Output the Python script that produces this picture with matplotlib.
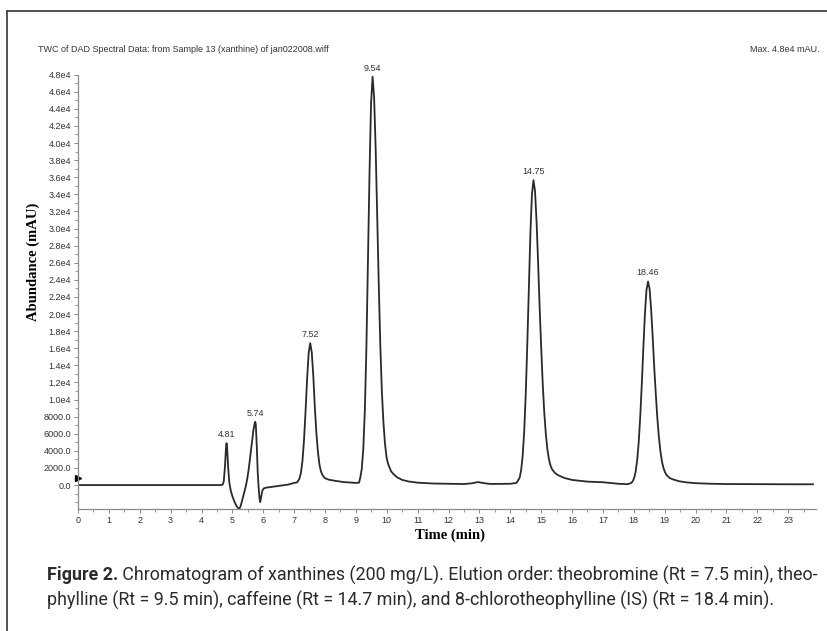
#!/usr/bin/env python

# Chromatogram of xanthines (DAD total wavelength chromatogram)
# ------------------------------------------------------------------------------

import numpy as np
import matplotlib
matplotlib.use('Agg')
import matplotlib.pyplot as plt
from matplotlib.ticker import MultipleLocator, FuncFormatter
from matplotlib.lines import Line2D

# -------------
# Data (time in min, abundance in mAU)
# -------------

time_min = [0.0, 4.60, 4.68, 4.72, 4.76, 4.79, 4.81, 4.83, 4.86, 4.90,
            4.95, 5.00, 5.05, 5.10, 5.15, 5.20, 5.24, 5.28, 5.33, 5.38,
            5.43, 5.48, 5.53, 5.58, 5.63, 5.68, 5.72, 5.74, 5.76, 5.79,
            5.82, 5.85, 5.88, 5.90, 5.93, 5.97, 6.02, 6.10, 6.30, 6.50,
            6.80, 7.00, 7.10, 7.17, 7.22, 7.27, 7.32, 7.37, 7.42, 7.47,
            7.52, 7.57, 7.62, 7.67, 7.72, 7.77, 7.82, 7.87, 7.92, 7.97,
            8.02, 8.12, 8.32, 8.60, 8.90, 9.00, 9.10, 9.14, 9.19, 9.24,
            9.29, 9.34, 9.39, 9.44, 9.49, 9.54, 9.59, 9.64, 9.69, 9.74,
            9.79, 9.84, 9.89, 9.94, 9.99, 10.04, 10.14, 10.24, 10.34, 10.50,
            10.70, 11.00, 11.50, 12.00, 12.50, 12.75, 12.95, 13.15, 13.35, 14.00,
            14.20, 14.30, 14.35, 14.40, 14.45, 14.50, 14.55, 14.60, 14.65, 14.70,
            14.75, 14.80, 14.85, 14.90, 14.95, 15.00, 15.05, 15.10, 15.15, 15.20,
            15.25, 15.30, 15.35, 15.45, 15.55, 15.75, 16.00, 16.50, 17.00, 17.50,
            17.80, 17.91, 17.96, 18.01, 18.06, 18.11, 18.16, 18.21, 18.26, 18.31,
            18.36, 18.41, 18.46, 18.51, 18.56, 18.61, 18.66, 18.71, 18.76, 18.81,
            18.86, 18.91, 18.96, 19.01, 19.06, 19.16, 19.26, 19.46, 19.71, 20.00,
            20.50, 21.00, 22.00, 23.00, 23.80]

abundance = [0, 0, 30, 400, 2200, 4200, 4900, 4300, 2200, 300,
             -700, -1300, -1800, -2200, -2550, -2750, -2700, -2300, -1600, -900,
             -200, 700, 1900, 3400, 5000, 6400, 7200, 7400, 7000, 4500,
             1500, -300, -1600, -2000, -1400, -650, -380, -300, -200, -100,
             50, 250, 320, 740, 1440, 2860, 5290, 8680, 12430, 15440,
             16600, 15540, 12770, 9100, 6090, 3890, 2370, 1570, 1150, 900,
             770, 630, 500, 350, 270, 250, 280, 840, 1900, 4270,
             8800, 16100, 25900, 36350, 44600, 47750, 45300, 39300, 31400, 23500,
             16400, 11000, 7400, 4900, 3300, 2500, 1600, 1200, 900, 600,
             420, 280, 180, 150, 120, 200, 350, 220, 130, 150,
             250, 830, 1710, 3400, 6260, 10620, 16410, 23050, 29370, 33950,
             35650, 34400, 30850, 26080, 20750, 16130, 11850, 8480, 6000, 4200,
             3050, 2300, 1850, 1400, 1150, 830, 600, 400, 330, 150,
             100, 230, 410, 810, 1590, 2940, 5100, 8130, 11950, 16170,
             20030, 22800, 23800, 22970, 20600, 17400, 13850, 10760, 7920, 5670,
             4010, 2780, 2000, 1500, 1170, 830, 670, 450, 310, 220,
             150, 120, 100, 90, 90]

# Labelled peaks (retention time, apex abundance)
peak_rt = [4.81, 5.74, 7.52, 9.54, 14.75, 18.46]
peak_top = [4900, 7400, 16600, 47750, 35650, 23800]
peak_labels = ['4.81', '5.74', '7.52', '9.54', '14.75', '18.46']

# Axis ticks
yticks = np.arange(0, 48001, 2000)
xticks = np.arange(0, 24, 1)

title_left = 'TWC of DAD Spectral Data: from Sample 13 (xanthine) of jan022008.wiff'
title_right = 'Max. 4.8e4 mAU.'
caption_bold = 'Figure 2.'
caption_1 = ' Chromatogram of xanthines (200 mg/L). Elution order: theobromine (Rt = 7.5 min), theo-'
caption_2 = 'phylline (Rt = 9.5 min), caffeine (Rt = 14.7 min), and 8-chlorotheophylline (IS) (Rt = 18.4 min).'

# ------------------------------------------------------------------------------------

W, H = 828, 631
fig = plt.figure(figsize=(W / 100., H / 100.), dpi=100)
fig.patch.set_facecolor('white')

ax = fig.add_axes([78. / W, 1 - 509. / H, (816. - 78.) / W, (509. - 74.6) / H])

# Trace
ax.plot(time_min, abundance, color='#2a2a2a', lw=1.3, solid_joinstyle='round')

# Peak labels
for rt, top, lab in zip(peak_rt, peak_top, peak_labels):
    ax.annotate(lab, (rt, top), xytext=(0, 3), textcoords='offset points',
                ha='center', va='bottom', fontsize=6.5, color='#333333',
                family='Liberation Sans')

# Small trigger marker on the y axis
ax.plot([0.0], [800], marker='>', ms=5, color='black', clip_on=False)

# Axis limits and ticks
ax.set_xlim(0, 23.9)
ax.set_ylim(-2800, 48000)
ax.set_xticks(xticks)
ax.set_yticks(yticks)
ax.xaxis.set_minor_locator(MultipleLocator(0.5))
ax.yaxis.set_minor_locator(MultipleLocator(1000))


def yfmt(v, pos):
    if v >= 10000:
        return '%.1fe4' % (v / 10000.)
    return '%.1f' % v


ax.yaxis.set_major_formatter(FuncFormatter(yfmt))

for s in ['top', 'right']:
    ax.spines[s].set_visible(False)
for s in ['left', 'bottom']:
    ax.spines[s].set_color('#8a8a8a')
    ax.spines[s].set_linewidth(0.9)

ax.tick_params(axis='both', which='major', length=3, width=0.7, color='#8a8a8a',
               labelsize=6.5, labelcolor='#333333', pad=2)
ax.tick_params(axis='both', which='minor', length=2, width=0.6, color='#8a8a8a')
for t in ax.get_xticklabels() + ax.get_yticklabels():
    t.set_family('Liberation Sans')

ax.set_xlabel('Time (min)', family='Liberation Serif', fontweight='bold',
              fontsize=10.5)
ax.set_ylabel('Abundance (mAU)', family='Liberation Serif', fontweight='bold',
              fontsize=10.5)
ax.xaxis.set_label_coords((450. - 78.) / (816. - 78.), -0.046)
ax.yaxis.set_label_coords(-(78. - 40.) / (816. - 78.), (509. - 262.) / (509. - 74.6))

# Header texts
fig.text(38. / W, 1 - 50. / H, title_left, fontsize=6.5, color='#333333',
         family='Liberation Sans', ha='left', va='center')
fig.text(820. / W, 1 - 50. / H, title_right, fontsize=6.5, color='#333333',
         family='Liberation Sans', ha='right', va='center')

# Outer frame (left and top edges)
fig.add_artist(Line2D([7. / W, 7. / W], [0, 1 - 11. / H], transform=fig.transFigure,
                      color='#444444', lw=1.3))
fig.add_artist(Line2D([7. / W, 1.0], [1 - 11. / H, 1 - 11. / H], transform=fig.transFigure,
                      color='#444444', lw=1.3))

# Caption, size fitted so the first line spans the same width as the original
cap_font = 'Roboto'
cap_size = 12.0
cap_x0, cap_x1 = 47., 815.
tb = fig.text(cap_x0 / W, 1 - 575. / H, caption_bold, fontsize=cap_size, fontweight='bold',
              color='#2b2b2b', family=cap_font, ha='left', va='center')
t1 = fig.text(0, 1 - 575. / H, caption_1, fontsize=cap_size, color='#2b2b2b',
              family=cap_font, ha='left', va='center')
t2 = fig.text(cap_x0 / W, 1 - 600. / H, caption_2, fontsize=cap_size, color='#2b2b2b',
              family=cap_font, ha='left', va='center')
fig.canvas.draw()
r = fig.canvas.get_renderer()
wtot = tb.get_window_extent(r).width + t1.get_window_extent(r).width
cap_size = cap_size * (cap_x1 - cap_x0) / wtot
for t in (tb, t1, t2):
    t.set_fontsize(cap_size)
fig.canvas.draw()
t1.set_x(tb.get_window_extent(r).x1 / W)

plt.savefig('out.png', dpi=100, facecolor='white')
plt.close()
